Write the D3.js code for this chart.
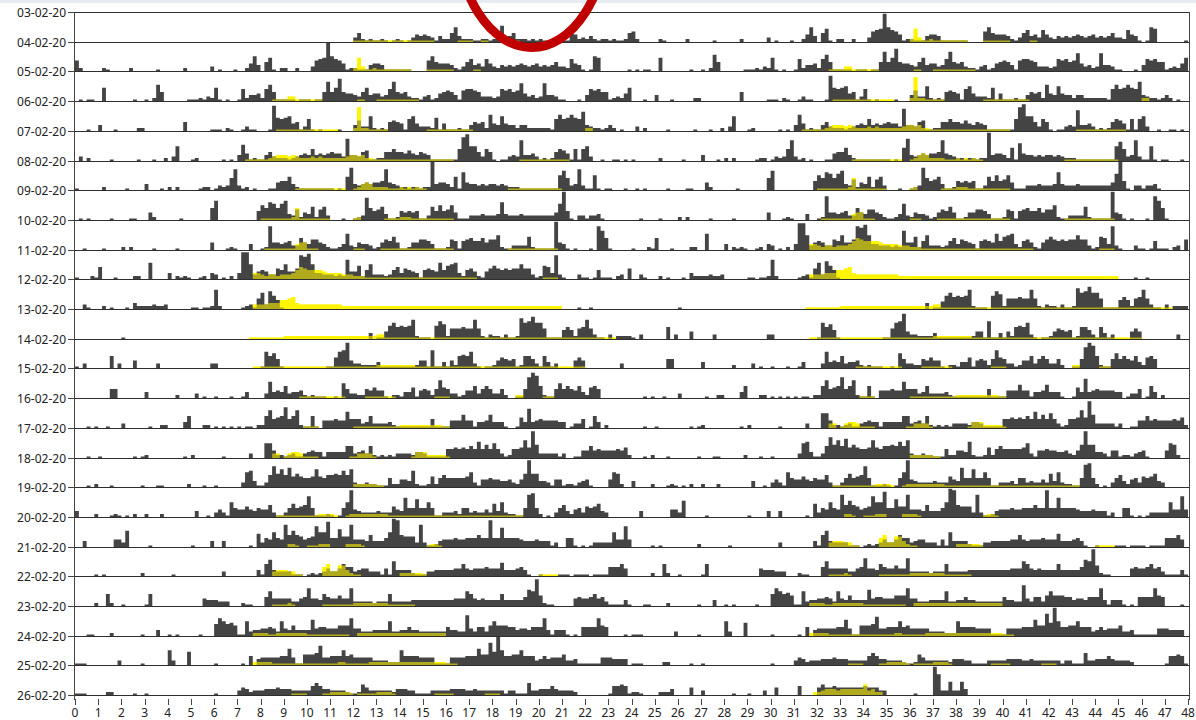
<!DOCTYPE html>
<html>
<head>
<meta charset="utf-8">
<script src="https://cdn.jsdelivr.net/npm/d3@7"></script>
<style>
  html, body { margin: 0; padding: 0; background: #ffffff; }
  svg { display: block; }
  text { font-family: "Noto Sans", "Open Sans", sans-serif; }
</style>
</head>
<body>
<svg id="chart" width="1196" height="720"></svg>
<script>
// Row labels of the double-plotted actogram (each row shows its day and the next one).
const rowLabels = [
  "03-02-20","04-02-20","05-02-20","06-02-20","07-02-20","08-02-20","09-02-20","10-02-20",
  "11-02-20","12-02-20","13-02-20","14-02-20","15-02-20","16-02-20","17-02-20","18-02-20",
  "19-02-20","20-02-20","21-02-20","22-02-20","23-02-20","24-02-20","25-02-20","26-02-20"
];

// Days with recorded data, in order.
const dataDays = [
  "04-02-20","05-02-20","06-02-20","07-02-20","08-02-20","09-02-20","10-02-20","11-02-20",
  "12-02-20","13-02-20","14-02-20","15-02-20","16-02-20","17-02-20","18-02-20","19-02-20",
  "20-02-20","21-02-20","22-02-20","23-02-20","24-02-20","25-02-20","26-02-20","27-02-20"
];

// Hour tick labels along the bottom axis.
const hourTicks = [0,1,2,3,4,5,6,7,8,9,10,11,12,13,14,15,16,17,18,19,20,21,22,23,24,
  25,26,27,28,29,30,31,32,33,34,35,36,37,38,39,40,41,42,43,44,45,46,47,48];

// Activity counts per 10-minute bin, one base-36 digit per bin, one group of six per hour.
const activity = [
  "000000 000000 000000 000000 000000 000000 000000 000000 000000 000000 000000 000000 362121 121012 101354 543142 26a422 211221 26b346 222121 210101 116523 242122 121126",
  "720000 021000 002000 000100 000020 000003 010001 0025a4 069102 200200 03789j a87512 211145 541111 111000 07a655 542136 845385 324343 454345 343463 328541 01a900 000001",
  "010110 090000 000100 102b60 000001 112132 910100 182445 28b611 111011 10116d 69f655 436945 5348d6 563221 341256 764178 876333 238786 7c5342 3c4431 100010 487866 123259",
  "000100 400010 000022 000000 000060 000001 110210 013110 001h98 9a5613 810100 001000 4733a2 121676 518a53 332915 111211 46562b 54a544 244222 22218b 89b98d 432212 420100",
  "030200 000100 000010 001002 03a000 120000 001010 4b5121 146322 212345 484545 6553f4 436711 226686 657546 541111 1118gi aa6386 101134 3e4453 121268 751818 a30010 011010",
  "100000 020000 010000 400010 202000 001220 13238e 312010 001156 694211 111111 10109f 434545 56e543 221221 22j455 4291c5 443434 434322 211111 11111a d834e3 11a101 100010",
  "010100 000100 001100 052000 000100 000008 d00000 000006 a8cb8b d43725 492793 000100 123f86 794112 656561 1396a6 7a5111 333433 34c433 343333 33335b j61033 133410 000000",
  "001000 010000 202000 001000 001000 000005 000121 000400 12g554 563385 477542 1124b3 254431 257695 112557 764111 276167 866857 7a2113 333921 1111j5 410100 010gd8 100000",
  "100021 800010 000220 0b0000 402121 001204 301020 4iia35 653376 a557gf ha4433 3232d5 5926a3 332368 476541 6765b6 9ab426 752157 976767 7a7731 2984g3 100031 101611 102307",
  "003100 020100 010422 223223 000000 110112 d20000 012317 b3c961 000000 000000 000000 000000 000000 000000 000000 000000 000000 000000 000000 000000 000010 010000 000000",
  "000000 000000 100000 000000 000000 000000 000000 000000 000000 000000 000000 000000 000040 1159b8 989d21 1109ca 277787 7d7213 221311 2ebcfb b71111 686278 d73110 302222",
  "103000 000803 000500 000300 000000 000003 300000 000000 1b8a61 000000 000001 17bch5 332222 411111 111125 51c114 152898 b31011 257656 128863 184130 000575 000000 000300",
  "000000 000660 000000 400000 002000 030100 100010 014000 03b454 834452 121110 010a63 322657 551022 144715 6526c7 633125 583686 336200 116ehf 82116a 686584 278600 000000",
  "000101 001000 300000 010022 000048 000220 101010 101102 28c678 e68c21 181055 5655b6 663483 333421 111111 116111 155595 514459 444100 174d45 655554 401336 018402 000000",
  "000100 100000 000101 200000 000010 200000 001000 000300 0aa522 123113 454414 444488 345382 121213 333244 311111 667676 86b696 a63126 67c7i9 333331 300115 585655 556572",
  "000102 000100 000001 000110 000002 000100 100000 03ab41 138e9c 8d7976 67c768 898b8c 322322 111622 554b21 127268 666667 a31556 554453 259i99 443155 122134 510000 5a9200",
  "400002 000121 010200 200020 000000 040010 3531a6 557546 558311 369678 e61112 1016ai 543333 433375 4d66c6 6a6113 334266 343353 94a322 116fg6 201036 842563 767943 000000",
  "004000 000055 3b0000 010000 000000 100004 004000 000109 365a65 f8b875 67eaah 66c77f 555484 446aji 87773f 311245 556556 66866i 66d666 654445 444130 066101 013333 3a55e5",
  "000001 010000 000002 000000 010000 000000 003000 000004 18b433 331110 121235 335866 345533 3151a4 444211 133444 445585 455565 559444 564100 100001 110111 101111 666850",
  "000002 008200 100000 180000 000000 000544 433300 021100 06a555 553356 c55486 55755c 333332 333833 333444 444444 44555a 854544 448444 446bai 721100 000565 568563 111141",
  "000110 000200 000001 000400 101000 001000 8ca897 11a344 55653a 547444 4b5665 55777c 553334 444a33 446443 333333 64433e 536637 a77766 455466 6c4144 410106 666c76 000010",
  "111000 000003 000001 000000 a30009 000000 100000 010604 555556 6b5117 778d55 666a67 555553 333222 a66665 555111 155556 66b77f 9ja667 7a6663 464555 733411 111155 544440",
  "111000 002200 000100 100000 000000 000000 100000 354233 344454 443333 368644 333321 127533 333324 443311 113333 344443 343333 333133 111833 444643 333200 000000 166761",
  "221000 022240 000500 300000 001000 100030 050000 060000 575565 555555 655533 000000 010000 je3393 394000 000000 000000 000000 000000 000000 000000 000000 000000 000000"
];

// Light exposure per 10-minute bin, same layout as the activity rows.
const light = [
  "000000 000000 000000 000000 000000 000000 000000 000000 000000 000000 000000 000000 111111 111111 111111 111000 000111 100110 000000 100000 000000 000000 000000 000000",
  "000000 000000 000000 000000 000000 000000 000000 000000 000000 000000 000000 000000 293112 111111 111000 011111 110000 011000 000000 000000 000000 000000 000000 000000",
  "000000 000000 000000 000000 000000 000000 000000 000000 000111 133111 111100 000000 011000 111111 111110 000000 000000 000000 000000 000000 000000 000000 000000 000000",
  "000000 000000 000000 000000 000000 000000 000000 000000 000011 111111 111111 110000 2g2211 111000 000000 011111 111111 100000 000000 000000 000000 000000 220000 000000",
  "000000 000000 000000 000000 000000 000000 000000 001111 112344 434322 232322 222234 434221 111111 111111 111111 110000 000000 000000 011111 111111 110000 000000 000000",
  "000000 000000 000000 000000 000000 000000 000000 000000 000000 000111 111111 111100 124542 222111 212121 100000 000000 000000 000011 111111 111111 000000 000000 000000",
  "000000 000000 000000 000000 000000 000000 000000 000000 111111 112811 111111 000000 120000 001111 222111 111111 110000 000000 000000 000000 000000 000000 000000 000000",
  "000000 000000 000000 000000 000000 000000 000000 000000 011111 111455 111000 000000 111000 011111 111111 111111 110000 000000 000011 111111 111110 000000 000000 000000",
  "000000 000000 000000 000000 000000 000000 000000 000044 323323 334687 666654 444333 222111 111111 111111 111111 111111 110000 000000 000000 011110 000000 000000 000000",
  "000000 000000 000000 000000 000000 000000 000000 000033 334446 678433 333333 333222 222222 222222 222222 222222 222222 222222 222222 222222 222222 000000 000000 000000",
  "000000 000000 000000 000000 000000 000000 000000 000111 111111 222222 222222 222222 222222 331111 111111 111111 111111 111111 111111 111111 111111 111111 111111 110000",
  "000000 000000 000000 000000 000000 000000 000000 000011 111111 111111 111111 111111 111111 222222 222211 111111 111111 111111 111111 111111 111111 111111 000000 000000",
  "000000 000000 000000 000000 000000 000000 000000 000000 000000 000011 111111 111100 000111 111110 000000 000111 100000 000000 000000 220000 011100 000000 000000 000000",
  "000000 000000 000000 000000 000000 000000 000000 000000 000000 000001 111000 000000 111111 111111 222222 222221 100000 000000 000000 000000 000000 000000 000000 000000",
  "000000 000000 000000 000000 000000 000000 000000 000000 000330 134431 111000 000001 133331 000000 000144 422222 100000 000000 000000 000000 000000 000000 000000 000000",
  "000000 000000 000000 000000 000000 000000 000000 000000 000000 000000 000000 000000 222222 110000 000000 000000 000000 000000 000000 000000 000000 000000 000000 000000",
  "000000 000000 000000 000000 000000 000000 000000 000000 000011 111111 111222 210012 222222 222111 111111 111111 111111 111111 111111 110000 000000 000000 000000 000000",
  "000000 000000 000000 000000 000000 000000 000000 000000 000000 022100 111222 000022 221000 000000 000000 012210 000000 000000 000000 000000 000000 000000 000000 000000",
  "000000 000000 000000 000000 000000 000000 000000 000000 000344 433110 000068 337742 110000 000000 222222 100000 000000 000000 000000 000000 111110 000000 000000 000000",
  "000000 000000 000000 000000 000000 000000 000000 000000 000111 121000 000011 111111 222222 222111 111100 000000 000000 000000 000000 000000 000000 000000 000000 000000",
  "000000 000000 000000 000000 000000 000000 000000 000022 221122 222222 111111 111110 022222 222222 222222 222222 000000 000000 000000 000000 000000 000000 000000 000000",
  "000000 000000 000000 000000 000000 000000 000000 000022 222111 111111 111111 112211 111122 222222 222222 222222 111000 000000 000000 000000 000000 000000 000000 000000",
  "000000 000000 000000 000000 000000 000000 000000 000000 000000 001111 000011 222221 011111 222210 000000 000111 110000 000011 110000 000000 000000 000000 000000 000000",
  "000000 000000 000000 000000 000000 000000 000000 000002 234443 444444 734220 000000 000000 000000 000000 000000 000000 000000 000000 000000 000000 000000 000000 000000"
];

// ---- layout ----
const plotLeft = 74.5, plotRight = 1189.5, plotTop = 12, plotBottom = 700;
const rowStep = 29.7;

const x = d3.scaleLinear().domain([0, 48]).range([75, 1188]);
const baseY = d3.scaleLinear().domain([0, rowLabels.length - 1])
  .range([12, 12 + rowStep * (rowLabels.length - 1)]);
const rowY = k => Math.round(baseY(k));
const barH = d3.scaleLinear().domain([0, 20]).range([0, rowStep]);

const decode = s => s.replace(/\s+/g, "").split("").map(c => parseInt(c, 36));
const actDays = activity.map(decode);
const luxDays = light.map(decode);
const binsPerDay = 144;

// Points for one row: left half = day of the row label, right half = the following day.
function rowPoints(series, k) {
  const pts = [];
  const left = dataDays.indexOf(rowLabels[k]);
  [left, left + 1].forEach((d, half) => {
    const vals = d >= 0 && d < series.length ? series[d] : [];
    for (let i = 0; i < binsPerDay; i++) {
      pts.push({ t: half * 24 + i * 24 / binsPerDay, v: vals[i] || 0 });
    }
  });
  pts.push({ t: 48, v: 0 });
  return pts;
}

const svg = d3.select("#chart");

// thin tinted strip along the top edge
svg.append("rect").attr("x", 0).attr("y", 0).attr("width", 1196).attr("height", 3)
  .attr("fill", "#e7ecf3");

svg.append("defs").append("clipPath").attr("id", "plot-clip")
  .append("rect")
  .attr("x", plotLeft).attr("y", plotTop)
  .attr("width", plotRight - plotLeft).attr("height", plotBottom - plotTop);

const plot = svg.append("g").attr("clip-path", "url(#plot-clip)");

function drawLayer(series, fill, opacity) {
  const g = plot.append("g").attr("fill", fill).attr("fill-opacity", opacity);
  rowLabels.forEach((lab, k) => {
    const base = rowY(k);
    const area = d3.area()
      .x(d => x(d.t))
      .y0(base)
      .y1(d => base - barH(d.v))
      .curve(d3.curveStepAfter);
    g.append("path").attr("d", area(rowPoints(series, k)));
  });
}

// light underneath, activity on top, then a translucent light wash so the overlap reads olive
drawLayer(luxDays, "#fff500", 1);
drawLayer(actDays, "#444444", 1);
drawLayer(luxDays, "#fff500", 0.58);

// row baselines
svg.append("g").selectAll("line").data(rowLabels).join("line")
  .attr("x1", plotLeft).attr("x2", plotRight)
  .attr("y1", (d, k) => rowY(k) + 0.5).attr("y2", (d, k) => rowY(k) + 0.5)
  .attr("stroke", "#2e2e2e").attr("stroke-width", 1);

// plot frame sides
svg.append("line").attr("x1", plotLeft).attr("x2", plotLeft)
  .attr("y1", plotTop).attr("y2", plotBottom).attr("stroke", "#444").attr("stroke-width", 1);
svg.append("line").attr("x1", plotRight).attr("x2", plotRight)
  .attr("y1", plotTop).attr("y2", plotBottom).attr("stroke", "#444").attr("stroke-width", 1);

// y axis: date labels with short ticks
const yAxis = svg.append("g");
yAxis.selectAll("line").data(rowLabels).join("line")
  .attr("x1", 68).attr("x2", plotLeft)
  .attr("y1", (d, k) => rowY(k) + 0.5).attr("y2", (d, k) => rowY(k) + 0.5)
  .attr("stroke", "#444");
yAxis.selectAll("text").data(rowLabels).join("text")
  .attr("x", 66).attr("y", (d, k) => rowY(k) + 0.5)
  .attr("text-anchor", "end").attr("dominant-baseline", "central")
  .attr("font-size", 12).attr("fill", "#222")
  .text(d => d);

// x axis: hour ticks
const xAxis = svg.append("g");
xAxis.selectAll("line").data(hourTicks).join("line")
  .attr("x1", d => Math.round(x(d)) + 0.5).attr("x2", d => Math.round(x(d)) + 0.5)
  .attr("y1", 699).attr("y2", 705)
  .attr("stroke", "#444");
xAxis.selectAll("text").data(hourTicks).join("text")
  .attr("x", d => x(d)).attr("y", 712)
  .attr("text-anchor", "middle").attr("dominant-baseline", "central")
  .attr("font-size", 12).attr("fill", "#222")
  .text(d => d);

// hand-drawn red loop around the top of the chart
svg.append("ellipse")
  .attr("cx", 531.7).attr("cy", -72.5).attr("rx", 76).attr("ry", 120)
  .attr("fill", "none").attr("stroke", "#c00000").attr("stroke-width", 9);
</script>
</body>
</html>
